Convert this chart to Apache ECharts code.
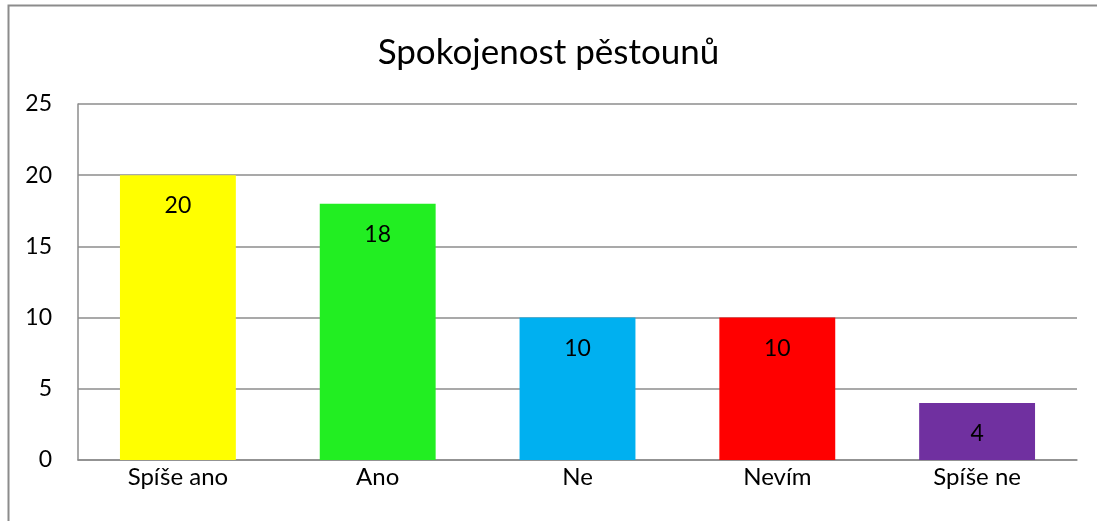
<!DOCTYPE html>
<html>
<head>
<meta charset="utf-8">
<script src="https://cdn.jsdelivr.net/npm/echarts@6/dist/echarts.min.js"></script>
<style>
  html, body { margin: 0; padding: 0; background: #fff; }
  #main { width: 1097px; height: 521px; }
</style>
</head>
<body>
<div id="main"></div>
<script>
var categories = ['Spíše ano', 'Ano', 'Ne', 'Nevím', 'Spíše ne'];
var values = [20, 18, 10, 10, 4];
var barColors = ['#ffff00', '#22ee22', '#00b0f0', '#ff0000', '#7030a0'];

var myChart = echarts.init(document.getElementById('main'));

var option = {
  backgroundColor: '#fff',
  textStyle: { fontFamily: 'Lato, "Open Sans", sans-serif' },
  title: {
    text: 'Spokojenost pěstounů',
    left: 'center',
    top: 30,
    textStyle: { fontSize: 35, fontWeight: 'normal', color: '#000', fontFamily: 'Lato, "Open Sans", sans-serif' }
  },
  graphic: [{
    type: 'rect',
    shape: { x: 8.5, y: 5.5, width: 1100, height: 530 },
    style: { fill: 'none', stroke: '#8c8c8c', lineWidth: 2 },
    silent: true
  }],
  grid: { left: 78, right: 20, top: 104, bottom: 61 },
  xAxis: {
    type: 'category',
    data: categories,
    axisTick: { show: false },
    axisLine: { lineStyle: { color: '#8c8c8c', width: 1.5 } },
    axisLabel: { color: '#000', fontSize: 24, margin: 5 }
  },
  yAxis: {
    type: 'value',
    min: 0,
    max: 25,
    interval: 5,
    axisLine: { show: true, lineStyle: { color: '#8c8c8c', width: 1.5 } },
    axisTick: { show: false },
    splitLine: { lineStyle: { color: '#8c8c8c', width: 1.5 } },
    axisLabel: { color: '#000', fontSize: 23, margin: 26 }
  },
  series: [{
    type: 'bar',
    barWidth: '58%',
    data: values.map(function (v, i) {
      return { value: v, itemStyle: { color: barColors[i] } };
    }),
    label: {
      show: true,
      position: 'insideTop',
      distance: 19,
      color: '#000',
      fontSize: 23
    }
  }]
};

myChart.setOption(option);
</script>
</body>
</html>
